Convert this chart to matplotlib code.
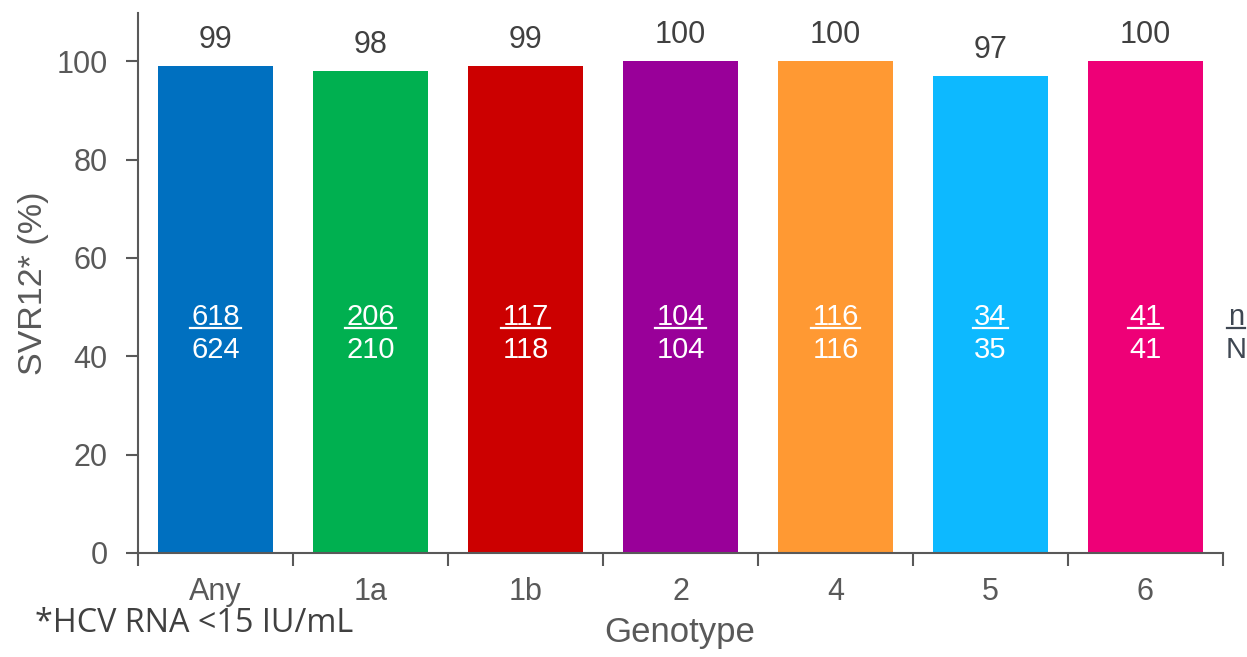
import numpy as np
import matplotlib.pyplot as plt
from matplotlib.lines import Line2D

# SVR12 per genotype
genotypes = ['Any', '1a', '1b', '2', '4', '5', '6']
svr12 = [99, 98, 99, 100, 100, 97, 100]
n_resp = [618, 206, 117, 104, 116, 34, 41]
n_total = [624, 210, 118, 104, 116, 35, 41]
colors = ['#0070C0', '#00B050', '#CC0000', '#990099', '#FF9933', '#0DB9FF', '#EE0077']

axis_grey = '#595959'
plt.rcParams['font.family'] = ['Liberation Sans', 'DejaVu Sans']

fig = plt.figure(figsize=(12.47, 6.57), dpi=100)
ax = fig.add_axes([138 / 1247, 1 - 553 / 657, (1223 - 138) / 1247, (553 - 13) / 657])

x = np.arange(len(genotypes))
ax.bar(x, svr12, width=0.74, color=colors, zorder=2)

ax.set_xlim(-0.5, len(genotypes) - 0.5)
ax.set_ylim(0, 109.8)
ax.set_yticks(np.arange(0, 101, 20))

# category labels centred, tick marks on the boundaries
ax.set_xticks(x)
ax.set_xticklabels(genotypes)
ax.set_xticks(np.arange(-0.5, len(genotypes)), minor=True)
ax.tick_params(axis='x', which='major', length=0, pad=17, labelsize=22, labelcolor=axis_grey)
ax.tick_params(axis='x', which='minor', length=9, width=1.5, color=axis_grey, direction='out')
ax.tick_params(axis='y', length=9, width=1.5, color=axis_grey, pad=13, labelsize=22, labelcolor=axis_grey)

for side in ['top', 'right']:
    ax.spines[side].set_visible(False)
for side in ['left', 'bottom']:
    ax.spines[side].set_color(axis_grey)
    ax.spines[side].set_linewidth(1.5)

# percentages above bars
for xi, v in zip(x, svr12):
    ax.annotate(str(v), (xi, v), xytext=(0, 13), textcoords='offset points',
                ha='center', va='baseline', fontsize=22, color='#404040')

# n / N inside bars, numerator underlined
num_texts = []
for xi, n, N in zip(x, n_resp, n_total):
    t = ax.text(xi, 46.3, str(n), ha='center', va='baseline', fontsize=21, color='white', zorder=3)
    ax.text(xi, 39.6, str(N), ha='center', va='baseline', fontsize=21, color='white', zorder=3)
    num_texts.append(t)

nt = fig.text(1236 / 1247, 1 - 325 / 657, 'n', ha='center', va='baseline', fontsize=21, color='#3F4752')
fig.text(1236 / 1247, 1 - 358 / 657, 'N', ha='center', va='baseline', fontsize=21, color='#3F4752')
num_texts.append(nt)

fig.canvas.draw()
renderer = fig.canvas.get_renderer()
inv = fig.transFigure.inverted()
for t in num_texts:
    bb = t.get_window_extent(renderer)
    x0, y0 = inv.transform((bb.x0 - 1, 657 - 328))
    x1, _ = inv.transform((bb.x1 + 1, 657 - 328))
    fig.add_artist(Line2D([x0, x1], [y0, y0], transform=fig.transFigure,
                          color=t.get_color(), linewidth=1.6, zorder=4))

fig.text(34 / 1247, 1 - 283 / 657, 'SVR12* (%)', rotation=90, ha='center', va='center',
         fontsize=24.5, color=axis_grey)
fig.text(680 / 1247, 1 - 642 / 657, 'Genotype', ha='center', va='baseline', fontsize=25, color=axis_grey)
fig.text(35 / 1247, 1 - 632 / 657, '*HCV RNA <15 IU/mL', ha='left', va='baseline',
         fontsize=23.3, color='#404040', family=['Open Sans', 'DejaVu Sans'])

fig.savefig('out.png', dpi=100)
